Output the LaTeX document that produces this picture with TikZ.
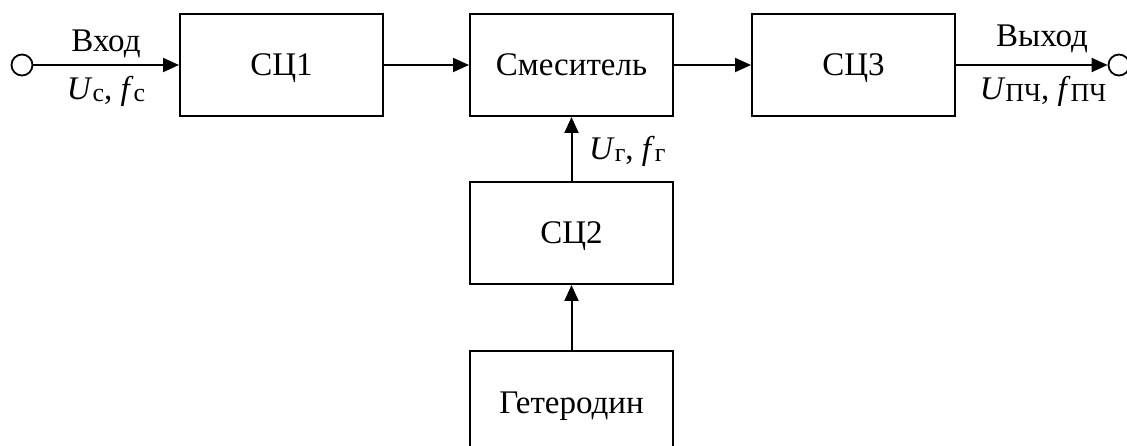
\documentclass[tikz,border=0pt]{standalone}
\usepackage{fontspec}
\setmainfont{Liberation Serif}
\usetikzlibrary{arrows.meta}
\newcommand{\lowsub}[1]{\raisebox{-0.06em}{\fontsize{26}{26}\selectfont #1}}
\tikzset{
  blk/.style={draw, line width=2pt, minimum width=203pt, minimum height=102pt, inner sep=0pt, text height=22pt, text depth=0pt, font=\fontsize{33}{38}\selectfont},
  term/.style={draw, circle, line width=1.8pt, minimum size=21pt, inner sep=0pt, fill=white},
  conn/.style={line width=2pt, -{Triangle[length=16pt,width=14pt]}},
  lbl/.style={font=\fontsize{33}{38}\selectfont, inner sep=0pt}
}
\begin{document}
\begin{tikzpicture}[x=1pt,y=-1pt]
\useasboundingbox (0,0) rectangle (1127,446);
\clip (0,0) rectangle (1127,446);
\fill[white] (0,0) rectangle (1127,446);
\node[blk] (s1) at (281.5,65) {СЦ1};
\node[blk] (mix) at (571.5,65) {Смеситель};
\node[blk] (s3) at (853.5,65) {СЦ3};
\node[blk] (s2) at (571.5,233) {СЦ2};
\node[blk] (het) at (571.5,402) {Гетеродин};
\node[term] (in) at (22,65) {};
\node[term] (out) at (1119,65) {};
\draw[conn] (in) -- (s1);
\draw[conn] (s1) -- (mix);
\draw[conn] (mix) -- (s3);
\draw[conn] (s3) -- (out);
\draw[conn] (s2) -- (mix);
\draw[conn] (het) -- (s2);
\node[lbl, anchor=base] (lin) at (106,52) {Вход};
\node[lbl, anchor=base] (lins) at (106,100) {\textit{U}\lowsub{с}, \textit{f}\lowsub{с}};
\node[lbl, anchor=base] (lout) at (1042,47) {Выход};
\node[lbl, anchor=base] (louts) at (1043,100) {\textit{U}\lowsub{ПЧ}, \textit{f}\lowsub{ПЧ}};
\node[lbl, anchor=base west] (lg) at (589,160) {\textit{U}\lowsub{г}, \textit{f}\lowsub{г}};
\end{tikzpicture}
\end{document}
